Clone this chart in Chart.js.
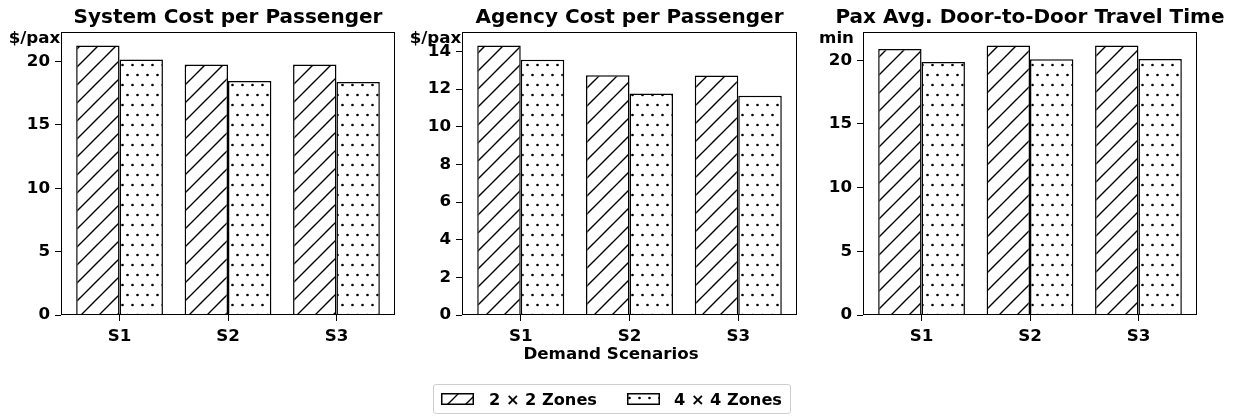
<!DOCTYPE html>
<html>
<head>
<meta charset="utf-8">
<script src="https://cdn.jsdelivr.net/npm/chart.js@4.4.1/dist/chart.umd.min.js"></script>
<style>
  html, body { margin: 0; padding: 0; background: #fff; }
  #wrap { position: relative; width: 1245px; height: 416px; overflow: hidden; font-family: "DejaVu Sans", sans-serif; }
  #wrap canvas.panel { position: absolute; top: 0; }
  #xlabel { position: absolute; left: 411px; width: 400px; top: 345px; text-align: center; font: bold 16.7px/16px "DejaVu Sans"; color: #000; white-space: nowrap; }
  #legend { position: absolute; left: 433px; top: 384px; width: 356px; height: 28px; border: 1px solid #cfcfcf; border-radius: 3px;
            display: flex; align-items: center; font: bold 16.2px "DejaVu Sans"; color: #000; white-space: nowrap; }
  #legend .item { display: flex; align-items: center; flex: none; }
  #legend canvas { display: block; }
</style>
</head>
<body>
<div id="wrap">
  <canvas id="p1" class="panel" width="405" height="370" style="left:0px"></canvas>
  <canvas id="p2" class="panel" width="405" height="370" style="left:405px"></canvas>
  <canvas id="p3" class="panel" width="435" height="370" style="left:810px"></canvas>
  <div id="xlabel">Demand Scenarios</div>
  <div id="legend">
    <div class="item" style="margin-left:7px"><canvas id="lg1" width="33" height="12"></canvas><span style="margin-left:15px">2 × 2 Zones</span></div>
    <div class="item" style="margin-left:30px"><canvas id="lg2" width="33" height="12"></canvas><span style="margin-left:14px">4 × 4 Zones</span></div>
  </div>
</div>
<script>
document.addEventListener('DOMContentLoaded', function(){
  const categories = ['S1', 'S2', 'S3'];
  const seriesNames = ['2 × 2 Zones', '4 × 4 Zones'];

  const sysCost2x2 = [21.26, 19.76, 19.76];
  const sysCost4x4 = [20.16, 18.45, 18.37];
  const agencyCost2x2 = [14.32, 12.74, 12.73];
  const agencyCost4x4 = [13.56, 11.77, 11.65];
  const travelTime2x2 = [20.89, 21.15, 21.16];
  const travelTime4x4 = [19.87, 20.08, 20.10];

  const sysTicks = [0, 5, 10, 15, 20];
  const agencyTicks = [0, 2, 4, 6, 8, 10, 12, 14];
  const timeTicks = [0, 5, 10, 15, 20];

  const FONT = '"DejaVu Sans"';

  // hatch '/' pattern
  function slashPattern(ctx){
    const s = 18;
    const c = document.createElement('canvas');
    c.width = s; c.height = s;
    const g = c.getContext('2d');
    g.fillStyle = '#fff'; g.fillRect(0, 0, s, s);
    g.strokeStyle = '#000'; g.lineWidth = 1.4;
    g.beginPath();
    g.moveTo(0, s); g.lineTo(s, 0);
    g.moveTo(-2, 2); g.lineTo(2, -2);
    g.moveTo(s - 2, s + 2); g.lineTo(s + 2, s - 2);
    g.stroke();
    return ctx.createPattern(c, 'repeat');
  }

  // hatch '.' pattern (staggered dots)
  function dotPattern(ctx){
    const c = document.createElement('canvas');
    c.width = 10; c.height = 20;
    const g = c.getContext('2d');
    g.fillStyle = '#fff'; g.fillRect(0, 0, 10, 20);
    g.fillStyle = '#000';
    [[2.5, 5], [7.5, 15]].forEach(p => { g.beginPath(); g.arc(p[0], p[1], 1.35, 0, Math.PI * 2); g.fill(); });
    return ctx.createPattern(c, 'repeat');
  }

  // frame box, panel title and unit label
  const framePlugin = {
    id: 'frame',
    afterDatasetsDraw(chart, args, opts){
      const a = chart.chartArea;
      const ctx = chart.ctx;
      ctx.save();
      ctx.strokeStyle = '#000';
      ctx.lineWidth = 1;
      ctx.strokeRect(Math.round(a.left) + 0.5, Math.round(a.top) + 0.5, Math.round(a.right - a.left) - 1, Math.round(a.bottom - a.top) - 1);
      ctx.fillStyle = '#000';
      ctx.textAlign = 'center';
      ctx.textBaseline = 'alphabetic';
      ctx.font = 'bold 16.7px ' + FONT;
      ctx.fillText(opts.unit, a.left - 26.5, a.top + 11);
      ctx.font = 'bold 20px ' + FONT;
      ctx.fillText(opts.title, (a.left + a.right) / 2, 22.5);
      ctx.restore();
    }
  };

  function makeChart(id, title, unit, a, b, ticks, yWidth, padRight){
    const canvas = document.getElementById(id);
    const ctx = canvas.getContext('2d');
    const yMax = Math.max(...a, ...b) * 1.05;
    return new Chart(ctx, {
      type: 'bar',
      data: {
        datasets: [
          { label: seriesNames[0], data: a.map((v, i) => ({x: i, y: v})), backgroundColor: slashPattern(ctx), borderColor: '#000', borderWidth: 1.5 },
          { label: seriesNames[1], data: b.map((v, i) => ({x: i, y: v})), backgroundColor: dotPattern(ctx), borderColor: '#000', borderWidth: 1.5 }
        ]
      },
      options: {
        responsive: false,
        animation: false,
        devicePixelRatio: 1,
        layout: { padding: { left: 0, right: padRight, top: 32, bottom: 0 } },
        datasets: { bar: { categoryPercentage: 0.8, barPercentage: 1.0 } },
        plugins: {
          legend: { display: false },
          tooltip: { enabled: false },
          title: { display: false },
          frame: { unit: unit, title: title }
        },
        scales: {
          x: {
            type: 'linear', min: -0.54, max: 2.54, offset: false,
            afterFit: s => { s.height = 55; },
            afterBuildTicks: s => { s.ticks = categories.map((c, i) => ({value: i})); },
            ticks: { color: '#000', padding: 6, font: { family: FONT, size: 16.7, weight: 'bold' }, callback: v => categories[v] },
            grid: { drawOnChartArea: false, drawTicks: true, tickLength: 6, tickWidth: 1, color: '#000', offset: false },
            border: { display: false }
          },
          y: {
            type: 'linear', min: 0, max: yMax,
            afterFit: s => { s.width = yWidth; },
            afterBuildTicks: s => { s.ticks = ticks.map(v => ({value: v})); },
            ticks: { color: '#000', padding: 5, font: { family: FONT, size: 16.7, weight: 'bold' } },
            grid: { drawOnChartArea: false, drawTicks: true, tickLength: 6, tickWidth: 1, color: '#000' },
            border: { display: false }
          }
        }
      },
      plugins: [framePlugin]
    });
  }

  makeChart('p1', 'System Cost per Passenger', '$/pax', sysCost2x2, sysCost4x4, sysTicks, 61, 10);
  makeChart('p2', 'Agency Cost per Passenger', '$/pax', agencyCost2x2, agencyCost4x4, agencyTicks, 57, 13);
  makeChart('p3', 'Pax Avg. Door-to-Door Travel Time', 'min', travelTime2x2, travelTime4x4, timeTicks, 53, 48);

  // legend patches
  function drawPatch(id, kind){
    const c = document.getElementById(id);
    const g = c.getContext('2d');
    g.fillStyle = kind === 'slash' ? slashPattern(g) : dotPattern(g);
    g.fillRect(0, 0, c.width, c.height);
    g.strokeStyle = '#000'; g.lineWidth = 1.5;
    g.strokeRect(0.75, 0.75, c.width - 1.5, c.height - 1.5);
  }
  drawPatch('lg1', 'slash');
  drawPatch('lg2', 'dot');
});
</script>
</body>
</html>
